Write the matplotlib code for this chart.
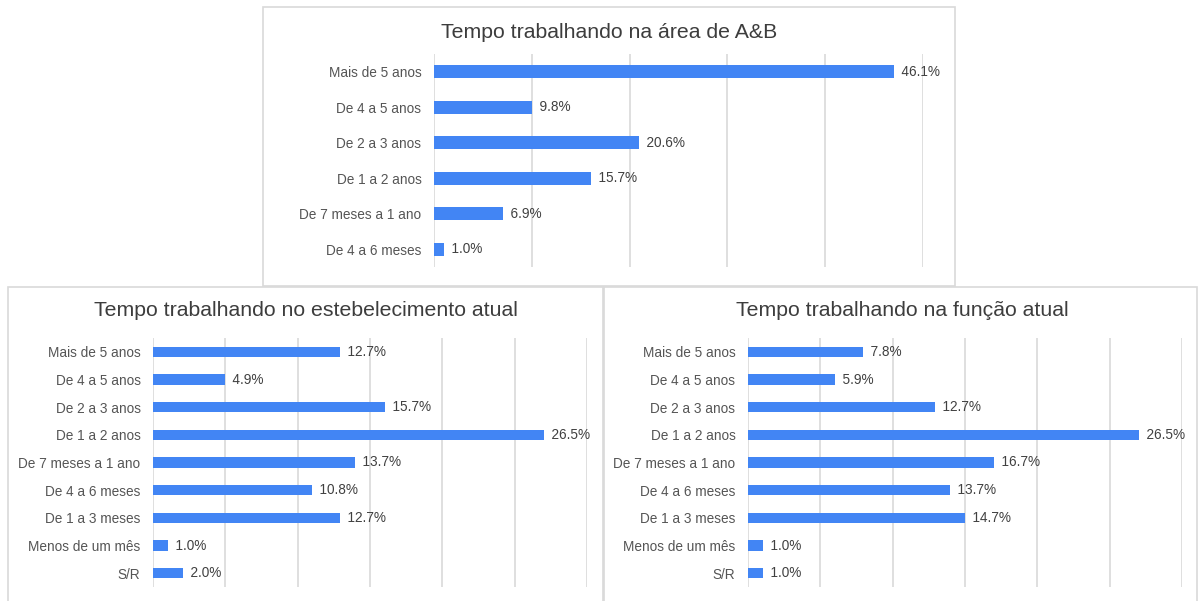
import numpy as np
import matplotlib
matplotlib.use("Agg")
import matplotlib.pyplot as plt
from matplotlib.patches import Rectangle

plt.rcParams['font.family'] = ['Liberation Sans', 'DejaVu Sans']

# total de respondentes (os eixos vão em contagens: grade a cada 10 ou 5 pessoas)
n_resp = 102

# Tempo trabalhando na área de A&B
cat_area = ["Mais de 5 anos", "De 4 a 5 anos", "De 2 a 3 anos", "De 1 a 2 anos",
            "De 7 meses a 1 ano", "De 4 a 6 meses"]
pct_area = [46.1, 9.8, 20.6, 15.7, 6.9, 1.0]

# Tempo trabalhando no estabelecimento atual
cat_estab = ["Mais de 5 anos", "De 4 a 5 anos", "De 2 a 3 anos", "De 1 a 2 anos",
             "De 7 meses a 1 ano", "De 4 a 6 meses", "De 1 a 3 meses",
             "Menos de um mês", "S/R"]
pct_estab = [12.7, 4.9, 15.7, 26.5, 13.7, 10.8, 12.7, 1.0, 2.0]

# Tempo trabalhando na função atual
cat_funcao = cat_estab
pct_funcao = [7.8, 5.9, 12.7, 26.5, 16.7, 13.7, 14.7, 1.0, 1.0]

W, H = 1199, 601
BLUE = "#4285f4"
GRID = "#d6d6d6"
BORDER = "#d9d9d9"
TXT = "#555555"

fig = plt.figure(figsize=(W / 100, H / 100), dpi=100)
fig.patch.set_facecolor("white")


def px_box(left, top, right, bottom):
    # caixa em pixels (origem no topo) -> fração da figura
    return [left / W, (H - bottom) / H, (right - left) / W, (bottom - top) / H]


def border(left, top, right, bottom):
    fig.add_artist(Rectangle((left / W, (H - bottom) / H), (right - left) / W,
                             (bottom - top) / H, transform=fig.transFigure,
                             facecolor="none", edgecolor=BORDER, lw=1.2))


def panel(box, cats, pcts, step, nsteps, title, title_xy):
    ax = fig.add_axes(px_box(*box))
    y = np.arange(len(cats))
    ax.barh(y, pcts, height=0.37, color=BLUE, zorder=3)
    for yi, v in zip(y, pcts):
        ax.text(v, yi, f"  {v:.1f}%", va="center", ha="left",
                fontsize=9.8, color="#404040", zorder=4)
    step_pct = step * 100 / n_resp
    ax.set_xlim(0, nsteps * step_pct)
    ax.set_xticks(np.arange(nsteps + 1) * step_pct)
    ax.set_xticklabels([])
    ax.set_ylim(len(cats) - 0.5, -0.5)
    ax.set_yticks(y)
    ax.set_yticklabels(cats, fontsize=9.8, color=TXT)
    ax.tick_params(length=0, pad=9)
    ax.grid(axis="x", color=GRID, lw=1.1, zorder=0)
    for s in ax.spines.values():
        s.set_visible(False)
    ax.set_facecolor("none")
    fig.text(title_xy[0] / W, 1 - title_xy[1] / H, title, ha="center", va="center",
             fontsize=15.3, color="#3d3d3d")
    return ax


border(263, 7, 955, 286)
border(8, 287, 603, 610)
border(604, 287, 1197, 610)

panel((434, 54, 923, 267), cat_area, pct_area, 10, 5,
      "Tempo trabalhando na área de A&B", (609, 32))
panel((153, 338, 587, 587), cat_estab, pct_estab, 5, 6,
      "Tempo trabalhando no estebelecimento atual", (306, 310))
panel((748, 338, 1182, 587), cat_funcao, pct_funcao, 5, 6,
      "Tempo trabalhando na função atual", (902, 310))

fig.savefig("out.png", dpi=100, facecolor="white")
